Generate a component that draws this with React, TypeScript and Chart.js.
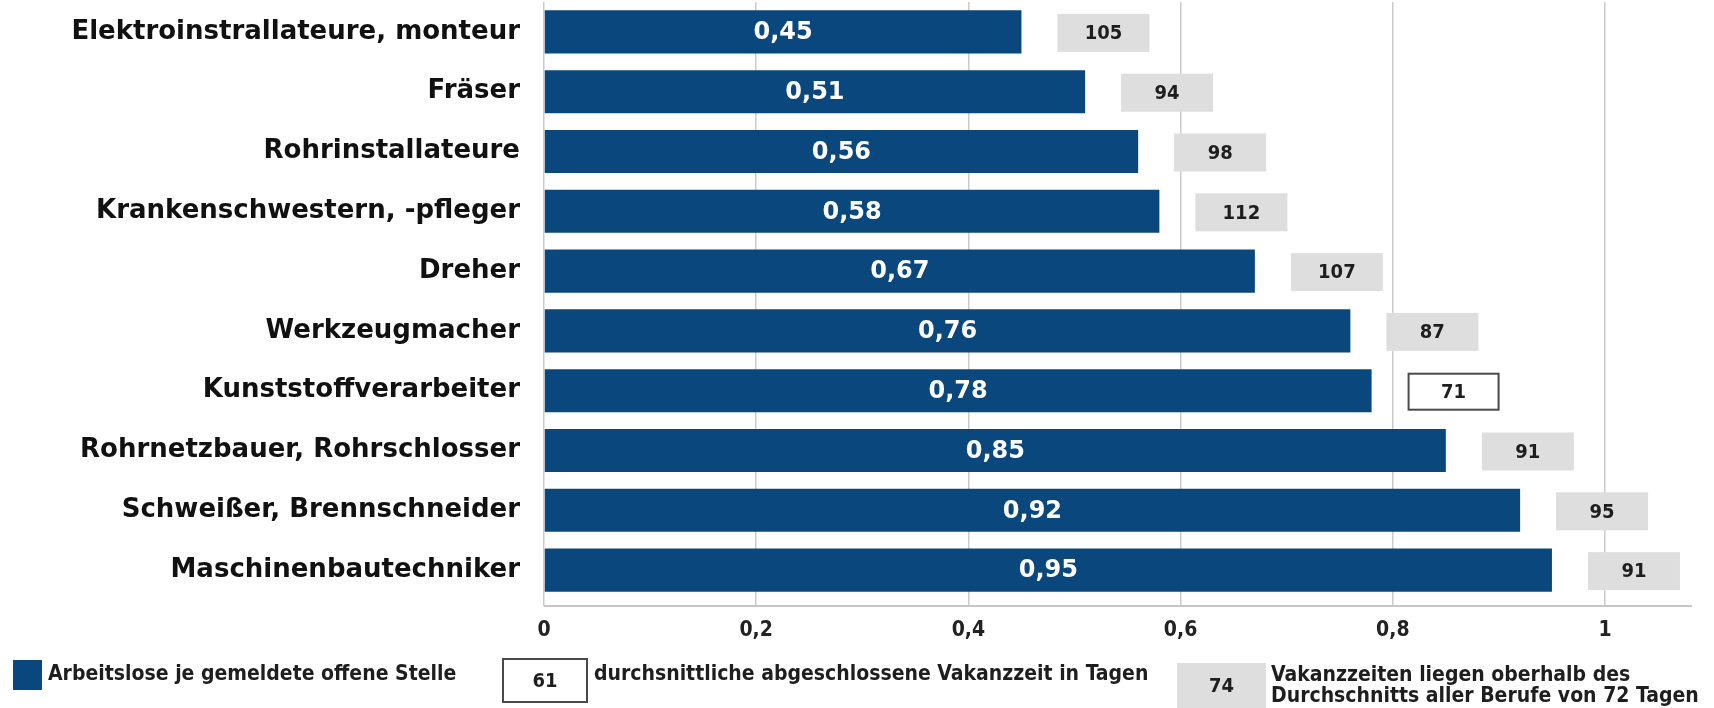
import React, { useEffect, useRef } from "react";
import { Chart, registerables } from "chart.js";

Chart.register(...registerables);

// Occupations with the highest shortage indicators
const occupations = [
  "Elektroinstrallateure, monteur",
  "Fräser",
  "Rohrinstallateure",
  "Krankenschwestern, -pfleger",
  "Dreher",
  "Werkzeugmacher",
  "Kunststoffverarbeiter",
  "Rohrnetzbauer, Rohrschlosser",
  "Schweißer, Brennschneider",
  "Maschinenbautechniker",
];

// Unemployed persons per reported vacancy
const unemployedPerVacancy = [0.45, 0.51, 0.56, 0.58, 0.67, 0.76, 0.78, 0.85, 0.92, 0.95];

// Average completed vacancy period in days
const vacancyDays = [105, 94, 98, 112, 107, 87, 71, 91, 95, 91];

// Average vacancy period over all occupations
const averageVacancyDays = 72;

const xTickValues = [0, 0.2, 0.4, 0.6, 0.8, 1];

const legendSeriesLabel = "Arbeitslose je gemeldete offene Stelle";
const legendBoxValue = 61;
const legendBoxLabel = "durchsnittliche abgeschlossene Vakanzzeit in Tagen";
const legendAboveValue = 74;
const legendAboveLines = [
  "Vakanzzeiten liegen oberhalb des",
  "Durchschnitts aller Berufe von 72 Tagen",
];

const BAR_BLUE = "#0a477c";
const BOX_GREY = "#dedede";
const TEXT_DARK = "#1e1e1e";
const WIDE_FONT = "'DejaVu Sans', Verdana, sans-serif";
const NARROW_FONT = "'DejaVu Sans Condensed', 'Liberation Sans Narrow', 'DejaVu Sans', sans-serif";

const decimal = (v: number, digits: number) => v.toFixed(digits).replace(".", ",");

function drawDayBox(
  ctx: CanvasRenderingContext2D,
  x: number,
  y: number,
  w: number,
  h: number,
  days: number,
  aboveAverage: boolean
) {
  if (aboveAverage) {
    ctx.fillStyle = BOX_GREY;
    ctx.fillRect(x, y, w, h);
  } else {
    ctx.fillStyle = "#ffffff";
    ctx.fillRect(x, y, w, h);
    ctx.strokeStyle = "#4a4a4a";
    ctx.lineWidth = 2;
    ctx.strokeRect(x + 1, y + 1, w - 2, h - 2);
  }
  ctx.fillStyle = TEXT_DARK;
  ctx.font = `bold 20px ${NARROW_FONT}`;
  ctx.textAlign = "center";
  ctx.textBaseline = "middle";
  ctx.fillText(String(days), x + w / 2, y + h / 2 + 1);
}

const annotations = {
  id: "barAnnotations",
  afterDatasetsDraw(chart: any) {
    const { ctx, chartArea } = chart;
    const meta = chart.getDatasetMeta(0);
    ctx.save();

    // x axis base line, just below the tick marks
    ctx.strokeStyle = "#c6c6c6";
    ctx.lineWidth = 2;
    ctx.beginPath();
    ctx.moveTo(chartArea.left, chartArea.bottom + 6);
    ctx.lineTo(chartArea.right, chartArea.bottom + 6);
    ctx.stroke();

    meta.data.forEach((bar: any, i: number) => {
      const { x: end, y, base } = bar.getProps(["x", "y", "base"], true);

      // ratio written inside the bar
      ctx.fillStyle = "#ffffff";
      ctx.font = `bold 24px ${WIDE_FONT}`;
      ctx.textAlign = "center";
      ctx.textBaseline = "middle";
      ctx.fillText(decimal(unemployedPerVacancy[i], 2), (base + end) / 2, y + 1);

      // vacancy period box to the right of the bar
      const boxW = 92;
      const boxH = 38;
      drawDayBox(ctx, end + 36, y - boxH / 2 + 1, boxW, boxH, vacancyDays[i], vacancyDays[i] > averageVacancyDays);
    });
    ctx.restore();
  },
  afterDraw(chart: any) {
    const { ctx } = chart;
    ctx.save();
    ctx.textBaseline = "middle";
    ctx.textAlign = "left";

    // series key
    ctx.fillStyle = BAR_BLUE;
    ctx.fillRect(13, 660, 29, 30);
    ctx.fillStyle = TEXT_DARK;
    ctx.font = `bold 21px ${NARROW_FONT}`;
    ctx.fillText(legendSeriesLabel, 48, 675);

    // vacancy period key
    drawDayBox(ctx, 502, 658, 86, 45, legendBoxValue, false);
    ctx.textAlign = "left";
    ctx.fillStyle = TEXT_DARK;
    ctx.font = `bold 21px ${NARROW_FONT}`;
    ctx.fillText(legendBoxLabel, 594, 675);

    // above-average key
    drawDayBox(ctx, 1177, 663, 89, 45, legendAboveValue, true);
    ctx.textAlign = "left";
    ctx.fillStyle = TEXT_DARK;
    ctx.font = `bold 21px ${NARROW_FONT}`;
    ctx.fillText(legendAboveLines[0], 1271, 676);
    ctx.fillText(legendAboveLines[1], 1271, 697);
    ctx.restore();
  },
};

export default function App() {
  const canvasRef = useRef<HTMLCanvasElement | null>(null);

  useEffect(() => {
    const canvas = canvasRef.current;
    if (!canvas) return;
    const chart = new Chart(canvas, {
      type: "bar",
      data: {
        labels: occupations,
        datasets: [
          {
            label: legendSeriesLabel,
            data: unemployedPerVacancy,
            backgroundColor: BAR_BLUE,
            borderWidth: 0,
            barPercentage: 0.72,
            categoryPercentage: 1,
          },
        ],
      },
      options: {
        indexAxis: "y",
        animation: false,
        responsive: false,
        devicePixelRatio: 1,
        layout: { padding: { left: 0, right: 22, top: 2, bottom: 68 } },
        plugins: {
          legend: { display: false },
          tooltip: { enabled: false },
        },
        scales: {
          y: {
            type: "category",
            grid: { display: false },
            border: { display: false },
            ticks: {
              padding: 16,
              color: "#111111",
              font: { family: WIDE_FONT, size: 26, weight: "bold" },
            },
            afterFit: (scale: any) => {
              scale.width = 544;
              scale.paddingTop = 0;
              scale.paddingBottom = 0;
            },
          },
          x: {
            type: "linear",
            min: 0,
            max: 1.082,
            grid: {
              color: "#cbcbcb",
              lineWidth: 1.5,
              drawTicks: true,
              tickLength: 6,
            },
            border: { display: false },
            afterBuildTicks: (axis: any) => {
              axis.ticks = xTickValues.map((value) => ({ value }));
            },
            ticks: {
              padding: 12,
              color: "#222222",
              font: { family: NARROW_FONT, size: 21, weight: "bold" },
              callback: (value: any) => String(Math.round(Number(value) * 10) / 10).replace(".", ","),
            },
            afterFit: (scale: any) => {
              scale.height = 40;
            },
          },
        },
      },
      plugins: [annotations],
    });
    return () => chart.destroy();
  }, []);

  return (
    <div style={{ position: "absolute", left: 0, top: 0, width: 1714, height: 708, background: "#ffffff" }}>
      <canvas ref={canvasRef} width={1714} height={708} style={{ display: "block" }} />
    </div>
  );
}
